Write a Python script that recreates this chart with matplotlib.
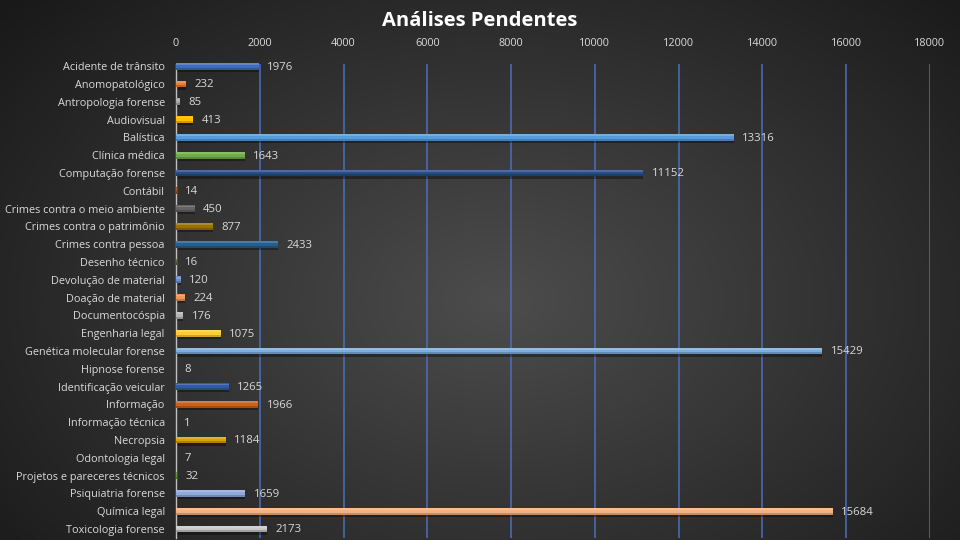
import numpy as np
import matplotlib
matplotlib.use('Agg')
import matplotlib.pyplot as plt

plt.rcParams['font.family'] = ['Open Sans', 'DejaVu Sans']

# data
categorias = ['Acidente de trânsito', 'Anomopatológico', 'Antropologia forense', 'Audiovisual',
              'Balística', 'Clínica médica', 'Computação forense', 'Contábil',
              'Crimes contra o meio ambiente', 'Crimes contra o patrimônio', 'Crimes contra pessoa',
              'Desenho técnico', 'Devolução de material', 'Doação de material', 'Documentocóspia',
              'Engenharia legal', 'Genética molecular forense', 'Hipnose forense',
              'Identificação veicular', 'Informação', 'Informação técnica', 'Necropsia',
              'Odontologia legal', 'Projetos e pareceres técnicos', 'Psiquiatria forense',
              'Química legal', 'Toxicologia forense']
valores = [1976, 232, 85, 413, 13316, 1643, 11152, 14, 450, 877, 2433, 16, 120, 224, 176,
           1075, 15429, 8, 1265, 1966, 1, 1184, 7, 32, 1659, 15684, 2173]
cores = ['#3f6cc0', '#ed7d31', '#a5a5a5', '#ffc000', '#5b9bd5', '#70ad47',
         '#264c8c', '#9e480e', '#636363', '#997300', '#255e91', '#43682b',
         '#698ed0', '#f1975a', '#b7b7b7', '#ffcd33', '#7cafdd', '#8cc168',
         '#335aa8', '#d26012', '#848484', '#d9a300', '#4e8ac8', '#609638',
         '#8faadc', '#f4b183', '#c9c9c9']
xticks = np.arange(0, 18001, 2000)

fig = plt.figure(figsize=(9.6, 5.4), dpi=100)

# background with radial gradient
bg = fig.add_axes([0, 0, 1, 1])
yy, xx = np.mgrid[0:540, 0:960]
r = np.sqrt(((xx - 500) / 620.0) ** 2 + ((yy - 300) / 420.0) ** 2)
shade = np.clip(0.30 - 0.19 * r, 0.10, 0.30)
img = np.dstack([shade, shade, shade])
bg.imshow(img, aspect='auto', extent=[0, 1, 0, 1])
bg.axis('off')

ax = fig.add_axes([0.1833, 0.004, 0.7854, 0.89])
ax.set_facecolor('none')
y = np.arange(len(categorias))

h = 0.38
# soft drop shadow below the bars
ax.barh(y + 0.13, valores, height=h, color='black', alpha=0.35, zorder=2)
ax.barh(y, valores, height=h, color=cores, zorder=3)
# glossy top and darker bottom edge
ax.barh(y - h * 0.3, valores, height=h * 0.25, color='white', alpha=0.18, zorder=4)
ax.barh(y + h * 0.36, valores, height=h * 0.28, color='black', alpha=0.2, zorder=4)

for yi, v in zip(y, valores):
    ax.text(v + 200, yi + 0.05, str(v), va='center', ha='left', color='#d9d9d9',
            fontsize=8.2, zorder=5)

ax.set_xlim(0, 18000)
ax.set_ylim(len(categorias) - 0.5, -0.5)
ax.set_xticks(xticks)
ax.xaxis.tick_top()
ax.tick_params(axis='x', length=0, colors='#d9d9d9', labelsize=7.8, pad=6)
ax.set_yticks(y)
ax.set_yticklabels(categorias)
ax.tick_params(axis='y', length=0, colors='#d9d9d9', labelsize=7.8, pad=8)
for s in ['top', 'right', 'bottom']:
    ax.spines[s].set_visible(False)
ax.spines['left'].set_color('#bfbfbf')
ax.spines['left'].set_linewidth(1.0)
ax.spines['left'].set_bounds(-0.1, len(categorias) - 0.5)

for xv in xticks[1:]:
    ax.plot([xv, xv], [-0.1, len(categorias) - 0.5], color='#4a6fc0', lw=1.1,
            zorder=1, solid_capstyle='butt')

title = fig.text(0.5, 0.962, 'Análises Pendentes', ha='center', va='center', color='white',
                 fontsize=14.5, fontweight='bold')

fig.savefig('out.png', dpi=100)
